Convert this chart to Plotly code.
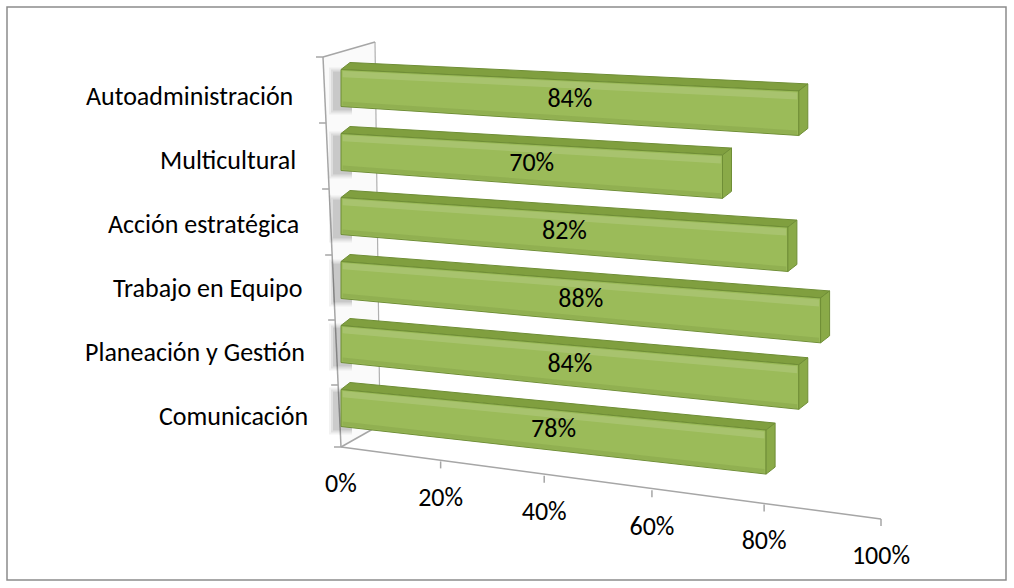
import plotly.graph_objects as go

# ---- data -------------------------------------------------------------
categories = ["Autoadministración", "Multicultural", "Acción estratégica",
              "Trabajo en Equipo", "Planeación y Gestión", "Comunicación"]
values = [84, 70, 82, 88, 84, 78]
tick_values = [0, 20, 40, 60, 80, 100]
tick_labels = ["0%", "20%", "40%", "60%", "80%", "100%"]

# ---- canvas / projection helpers -------------------------------------
W, H = 1014, 588
X0_PX = 341.0          # screen column of the 0 % plane
PX_PER_UNIT = 5.45     # screen pixels per percentage point
FONT = "Calibri, Carlito, Lato, sans-serif"
FONT_SIZE = 26

FRONT = "#9bbb59"
TOP = "#809f3f"
CAP = "#8aaa48"
EDGE = "#6f8e36"
GRID = "#a6a6a6"


def ux(px):
    """screen column -> value units of the x axis"""
    return (px - X0_PX) / PX_PER_UNIT


def row_center(row, v):
    """vertical centre of a bar's front face (screen px), with perspective tilt"""
    return 88 + 64 * row + (0.30 + 0.053 * row) * v


def half_height(v):
    return 18.5 + 0.045 * v


# the floor edge is a nearer plane: its scale is foreshortened
FLOOR_X0, FLOOR_X1 = 341.0, 881.0
FLOOR_K = 0.905


def floor_px(v):
    u = v / 100.0
    return FLOOR_X0 + (FLOOR_X1 - FLOOR_X0) * FLOOR_K * u / (1 + (FLOOR_K - 1) * u)


def floor_y(v):
    return 447 + 0.72 * v


def wall_x(py):
    """front edge of the side wall (screen px) at a given screen row"""
    return 323 + 18 * (py - 57) / 390


DEPTH_DX = 9 / PX_PER_UNIT   # box depth, horizontal (value units)
DEPTH_DY = 7                 # box depth, vertical (px)

fig = go.Figure()


def poly(xs, ys, fill, line=None, width=0):
    fig.add_trace(go.Scatter(
        x=xs + [xs[0]], y=ys + [ys[0]], mode="lines", fill="toself",
        fillcolor=fill, hoverinfo="skip", showlegend=False,
        line=dict(color=line if line else "rgba(0,0,0,0)", width=width)))


def seg(xs, ys, color=GRID, width=1.5):
    fig.add_trace(go.Scatter(x=xs, y=ys, mode="lines", hoverinfo="skip",
                             showlegend=False,
                             line=dict(color=color, width=width)))


# ---- side wall ---------------------------------------------------------
wall_pts = [(323, 57), (375, 42), (380, 425), (341, 447)]
poly([ux(p[0]) for p in wall_pts], [p[1] for p in wall_pts], "#fafafa")
seg([ux(375), ux(380)], [42, 425], color="#b0b0b0", width=1.2)
seg([ux(323), ux(375)], [57, 42])
seg([ux(341), ux(380)], [447, 425])
seg([ux(323), ux(341)], [57, 447])

# category ticks on the wall edge
for py in [57, 123, 189, 255, 320, 385, 447]:
    wx = wall_x(py)
    seg([ux(wx - 7), ux(wx)], [py, py])

# ---- floor edge / value axis ------------------------------------------
seg([ux(floor_px(0)), ux(floor_px(100))], [floor_y(0), floor_y(100)])
for t in tick_values[1:]:
    seg([ux(floor_px(t))] * 2, [floor_y(t), floor_y(t) + 7])

fig.add_trace(go.Scatter(
    x=[ux(floor_px(t)) for t in tick_values],
    y=[floor_y(t) + 38 for t in tick_values],
    text=tick_labels, mode="text", hoverinfo="skip", showlegend=False,
    textfont=dict(family=FONT, size=FONT_SIZE, color="#000000")))

# ---- bars ----------------------------------------------------------------
for r, v in enumerate(values):
    t0 = row_center(r, 0) - half_height(0)
    b0 = row_center(r, 0) + half_height(0)
    t1 = row_center(r, v) - half_height(v)
    b1 = row_center(r, v) + half_height(v)

    # soft shadow cast on the wall
    for k, a in enumerate([0.05, 0.07, 0.09]):
        g = 6 - 2 * k
        poly([ux(329 + 2 * k), ux(352), ux(352), ux(329 + 2 * k)],
             [t0 - g + 4, t0 - g + 4, b0 + g + 2, b0 + g + 2],
             "rgba(0,0,0,%.2f)" % a)

    # top face
    poly([0, v, v + DEPTH_DX, DEPTH_DX],
         [t0, t1, t1 - DEPTH_DY, t0 - DEPTH_DY], TOP, EDGE, 1)
    # front face with light and dark bands
    poly([0, v, v, 0], [t0, t1, b1, b0], FRONT, EDGE, 1)
    hl0 = t0 + 0.10 * (b0 - t0)
    hl1 = t1 + 0.10 * (b1 - t1)
    poly([0.3, v - 0.3, v - 0.3, 0.3],
         [t0 + 1.5, t1 + 1.5, hl1 + 4, hl0 + 4], "rgba(255,255,255,0.13)")
    poly([0.3, v - 0.3, v - 0.3, 0.3],
         [b0 - 5, b1 - 5, b1 - 1, b0 - 1], "rgba(60,80,20,0.10)")
    # end cap
    poly([v, v + DEPTH_DX, v + DEPTH_DX, v],
         [t1, t1 - DEPTH_DY, b1 - DEPTH_DY, b1], CAP, EDGE, 1)

    # data label in the middle of the bar
    fig.add_trace(go.Scatter(
        x=[v / 2], y=[row_center(r, v / 2)], text=["%d%%" % v],
        mode="text", hoverinfo="skip", showlegend=False,
        textfont=dict(family=FONT, size=FONT_SIZE, color="#000000")))

    # category label
    ly = row_center(r, 0) + 8
    fig.add_annotation(x=ux(wall_x(ly) - 30), y=ly, xref="x", yref="y",
                       text=categories[r], showarrow=False,
                       xanchor="right", yanchor="middle",
                       font=dict(family=FONT, size=FONT_SIZE, color="#000000"))

# ---- frame & layout ---------------------------------------------------------
fig.add_shape(type="rect", xref="paper", yref="paper",
              x0=7 / W, x1=1006 / W, y0=1 - 580 / H, y1=1 - 7 / H,
              line=dict(color="#8c8c8c", width=1.5))

fig.update_layout(
    width=W, height=H,
    margin=dict(l=0, r=0, t=0, b=0),
    paper_bgcolor="white", plot_bgcolor="white",
    xaxis=dict(range=[ux(0), ux(W)], visible=False, fixedrange=True),
    yaxis=dict(range=[H, 0], visible=False, fixedrange=True),
    showlegend=False,
)

fig.write_html("out.html")
